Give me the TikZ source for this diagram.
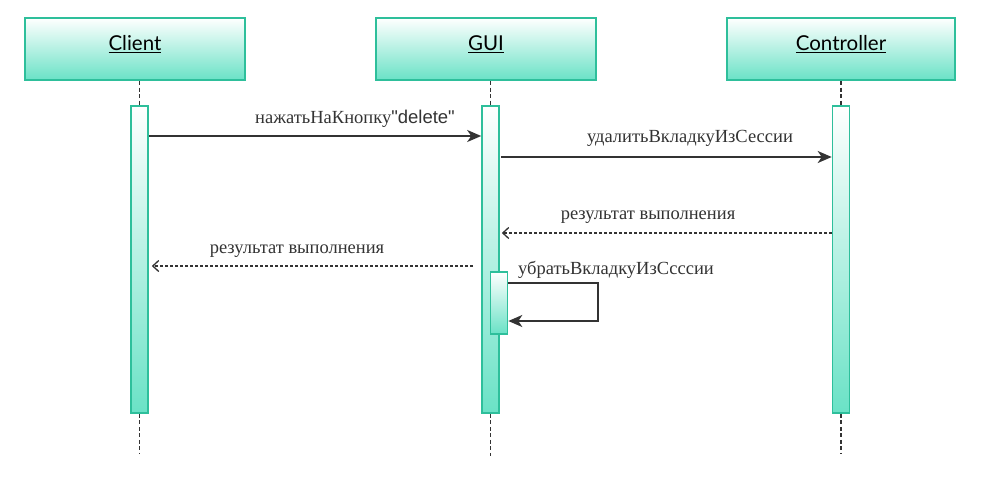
\documentclass[tikz,border=0pt]{standalone}
\usepackage{xcolor}
\usepackage{fontspec}
\setmainfont{Liberation Serif}
\newfontfamily\boxfont{Lato}
\newfontfamily\ascfont{Liberation Sans}
\usetikzlibrary{arrows.meta, positioning}

\definecolor{mint}{HTML}{6AE2C6}
\definecolor{mintline}{HTML}{2EBF9B}
\definecolor{ink}{HTML}{333333}

\tikzset{
  actor/.style={draw=mintline, line width=2pt, top color=white, bottom color=mint,
    minimum width=220pt, minimum height=62pt, font=\boxfont\fontsize{20.5}{24}\selectfont},
  bar/.style={draw=mintline, line width=1.6pt, top color=white, bottom color=mint,
    minimum width=17pt, inner sep=0pt},
  life/.style={ink, line width=1.2pt, dash pattern=on 4pt off 2.5pt},
  msg/.style={ink, line width=1.8pt, -{Stealth[length=14pt, width=12pt, inset=4pt]}},
  reply/.style={ink, line width=1.3pt, dash pattern=on 3pt off 2pt,
    -{Straight Barb[length=6pt, width=11pt]}},
  lbl/.style={font=\fontsize{18.5}{22}\selectfont, text=ink, inner sep=0pt}
}
\newcommand{\actorname}[1]{\raisebox{5pt}[\height][\depth]{\underline{#1}}}

\begin{document}
\begin{tikzpicture}[x=1pt, y=-1pt]
        \useasboundingbox (0,0) rectangle (981,493);

        \node[actor] (client) at (135,49) {\actorname{Client}};
        \node[actor] (gui)    at (486,49) {\actorname{GUI}};
        \node[actor, minimum width=228pt] (ctrl) at (841,49) {\actorname{Controller}};

        \node[bar, minimum height=307pt] (cbar) at (139.5,259.5) {};
        \node[bar, minimum height=307pt] (gbar) at (490.5,259.5) {};
        \node[bar, minimum height=307pt] (kbar) at (841,259.5) {};
        \node[bar, minimum height=62pt] (sbar) at (499,303) {};

        % lifelines
        \draw[life] (client.south -| cbar) -- (cbar.north);
        \draw[life] (cbar.south) -- ++(0,40);
        \draw[life] (gui.south -| gbar) -- (gbar.north);
        \draw[life] (gbar.south) -- ++(0,42);
        \draw[life] (ctrl.south -| kbar) -- (kbar.north);
        \draw[life] (kbar.south) -- ++(0,40);

        % messages
        \draw[msg] (cbar.east |- 0,136) -- (gbar.west |- 0,136);
        \node[lbl] (m1) at (355,119) {нажатьНаКнопку\ascfont"delete"};

        \draw[msg] ([xshift=1pt]gbar.east |- 0,157) -- (kbar.west |- 0,157);
        \node[lbl] (m2) at (690,138) {удалитьВкладкуИзСессии};

        \draw[reply] (kbar.west |- 0,233) -- ([xshift=2pt]gbar.east |- 0,233);
        \node[lbl] (m3) at (648,217) {результат выполнения};

        \draw[reply] ([xshift=-8pt]gbar.west |- 0,266) -- ([xshift=3pt]cbar.east |- 0,266);
        \node[lbl] (m4) at (297,251) {результат выполнения};

        \draw[msg] (sbar.east |- 0,283) -- (598,283) -- (598,321) -- (sbar.east |- 0,321);
        \node[lbl] (m5) at (616,270) {убратьВкладкуИзСсссии};
    \end{tikzpicture}
\end{document}
